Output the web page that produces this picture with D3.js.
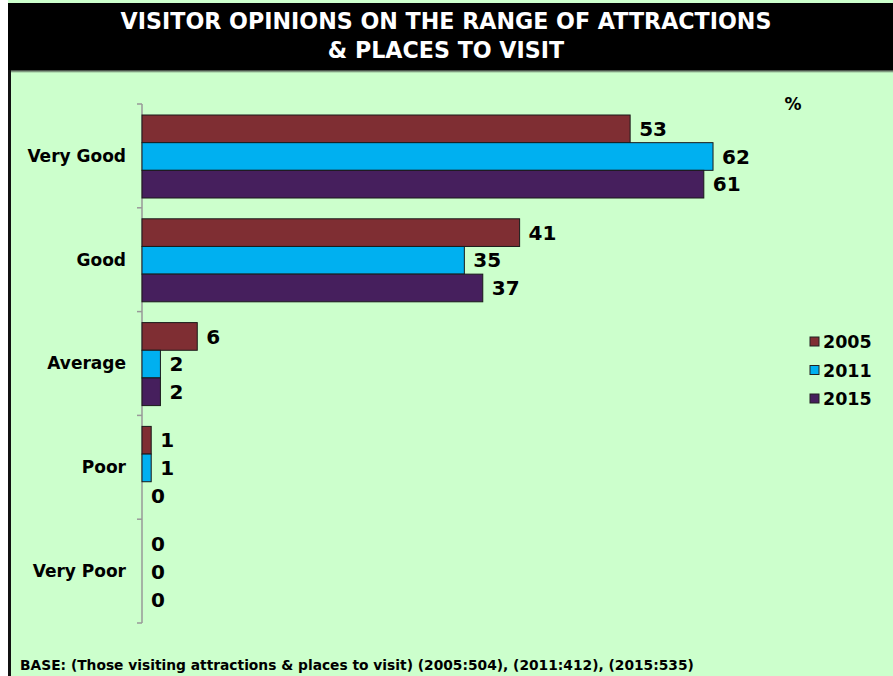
<!DOCTYPE html>
<html>
<head>
<meta charset="utf-8">
<script src="https://cdn.jsdelivr.net/npm/d3@7"></script>
<style>
  html, body { margin: 0; padding: 0; background: #ffffff; }
  svg { display: block; }
  text { font-family: "DejaVu Sans", Verdana, sans-serif; font-weight: bold; }
</style>
</head>
<body>
<svg id="chart" width="893" height="676"></svg>
<script>
// Ratings shown down the chart, top to bottom
const categories = ["Very Good", "Good", "Average", "Poor", "Very Poor"];
// Survey waves
const years = ["2005", "2011", "2015"];
// Percentage of visitors giving each rating, per wave
const values2005 = [53, 41, 6, 1, 0];
const values2011 = [62, 35, 2, 1, 0];
const values2015 = [61, 37, 2, 0, 0];
const colors = ["#7F2E33", "#00B0F0", "#461F5D"];

const series = [values2005, values2011, values2015];

const svg = d3.select("#chart");
const W = 893, H = 676;

// Panel background and frame
svg.append("rect").attr("x", 8).attr("y", 0).attr("width", W - 8).attr("height", H).attr("fill", "#CCFFCC");
svg.append("rect").attr("x", 8).attr("y", 70).attr("width", 3).attr("height", H - 70).attr("fill", "#111");

// Title band with soft lower edge
const defs = svg.append("defs");
const grad = defs.append("linearGradient").attr("id", "shade").attr("x1", 0).attr("y1", 0).attr("x2", 0).attr("y2", 1);
grad.append("stop").attr("offset", "0%").attr("stop-color", "#333");
grad.append("stop").attr("offset", "100%").attr("stop-color", "#CCFFCC");
svg.append("rect").attr("x", 8).attr("y", 3).attr("width", W - 8).attr("height", 67).attr("fill", "#000");
svg.append("rect").attr("x", 11).attr("y", 70).attr("width", W - 11).attr("height", 3).attr("fill", "url(#shade)");

svg.append("text").attr("x", 446).attr("y", 29).attr("text-anchor", "middle")
  .attr("fill", "#fff").attr("font-size", 22.2).text("VISITOR OPINIONS ON THE RANGE OF ATTRACTIONS");
svg.append("text").attr("x", 446).attr("y", 58).attr("text-anchor", "middle")
  .attr("fill", "#fff").attr("font-size", 22.2).text("& PLACES TO VISIT");

// Scales
const x0 = 142;
const x = d3.scaleLinear().domain([0, 10]).range([x0, x0 + 92.1]);
const y = d3.scaleBand().domain(categories).range([104, 623]).paddingInner(0).paddingOuter(0);
const yInner = d3.scaleBand().domain(years).range([11, 11 + 83]);

// Category axis with tick marks between groups
const axis = svg.append("g");
axis.append("line").attr("x1", x0).attr("x2", x0).attr("y1", 104).attr("y2", 623)
  .attr("stroke", "#999").attr("stroke-width", 1.5);
const bounds = categories.map(c => y(c)).concat([y(categories[categories.length - 1]) + y.bandwidth()]);
axis.selectAll("line.tick").data(bounds).join("line").attr("class", "tick")
  .attr("x1", x0 - 5).attr("x2", x0).attr("y1", d => d).attr("y2", d => d)
  .attr("stroke", "#999").attr("stroke-width", 1.5);
axis.selectAll("text.cat").data(categories).join("text").attr("class", "cat")
  .attr("x", 126).attr("y", d => y(d) + y.bandwidth() / 2).attr("dy", "0.35em")
  .attr("text-anchor", "end").attr("font-size", 17).attr("fill", "#000").text(d => d);

// Bars and value labels
const groups = svg.selectAll("g.grp").data(categories).join("g").attr("class", "grp")
  .attr("transform", d => `translate(0,${y(d)})`);
years.forEach((yr, si) => {
  groups.filter((d, i) => series[si][i] > 0).append("rect")
    .attr("x", x(0))
    .attr("y", yInner(yr))
    .attr("width", (d) => x(series[si][categories.indexOf(d)]) - x(0))
    .attr("height", yInner.bandwidth())
    .attr("fill", colors[si]).attr("stroke", "#1a1a1a").attr("stroke-width", 1);
  groups.append("text")
    .attr("x", d => x(series[si][categories.indexOf(d)]) + 9)
    .attr("y", yInner(yr) + yInner.bandwidth() / 2).attr("dy", "0.36em")
    .attr("font-size", 20).attr("fill", "#000")
    .text(d => series[si][categories.indexOf(d)]);
});

// Unit marker
svg.append("text").attr("x", 793).attr("y", 110).attr("text-anchor", "middle")
  .attr("font-size", 17).attr("fill", "#000").text("%");

// Legend
const legend = svg.append("g").attr("transform", "translate(810,342)");
years.forEach((yr, i) => {
  legend.append("rect").attr("x", 0).attr("y", i * 28.5 - 5).attr("width", 9).attr("height", 9)
    .attr("fill", colors[i]).attr("stroke", "#222").attr("stroke-width", 1);
  legend.append("text").attr("x", 13).attr("y", i * 28.5).attr("dy", "0.36em")
    .attr("font-size", 17.5).attr("fill", "#000").text(yr);
});

// Base note
svg.append("text").attr("x", 20).attr("y", 670).attr("font-size", 13.8).attr("fill", "#000")
  .text("BASE: (Those visiting attractions & places to visit) (2005:504), (2011:412), (2015:535)");
</script>
</body>
</html>
